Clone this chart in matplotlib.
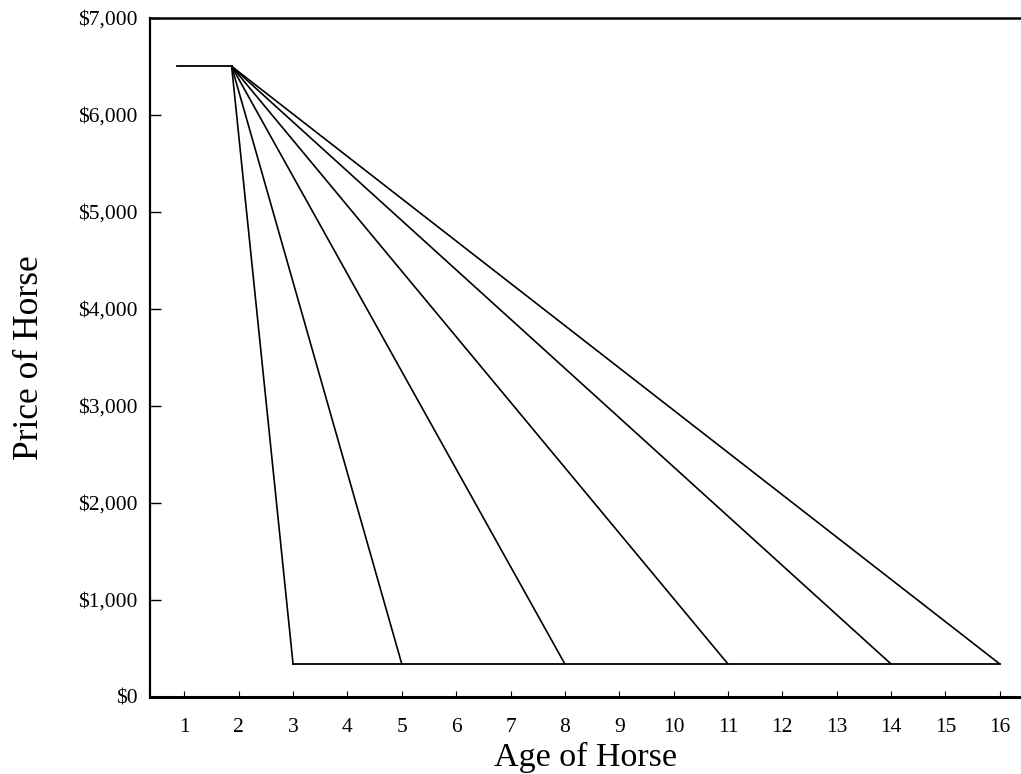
"""Prezzo del cavallo in funzione dell'eta: ammortamento lineare su diversi orizzonti."""
import matplotlib

matplotlib.use("Agg")
import matplotlib.pyplot as plt
from matplotlib.ticker import FuncFormatter

plt.rcParams["font.family"] = ["Liberation Serif", "DejaVu Serif"]

# dati
start_age = [0.87, 1.87]
start_price = [6500, 6500]
end_ages = [3, 5, 8, 11, 14, 16]
salvage_price = 340
x_ticks = list(range(1, 17))
y_ticks = [0, 1000, 2000, 3000, 4000, 5000, 6000, 7000]

fig = plt.figure(figsize=(10.21, 7.74), dpi=100)
ax = fig.add_axes([0.147, 0.0995, 0.853, 0.8775])

ax.plot(start_age, start_price, color="black", lw=1.3)
for age in end_ages:
    ax.plot([start_age[-1], age], [start_price[-1], salvage_price], color="black", lw=1.2)
ax.plot([end_ages[0], end_ages[-1]], [salvage_price, salvage_price], color="black", lw=1.3)

ax.set_xlim(0.37, 16.39)
ax.set_ylim(0, 7000)
ax.set_xticks(x_ticks)
ax.set_yticks(y_ticks)
ax.yaxis.set_major_formatter(FuncFormatter(lambda v, _: f"${v:,.0f}"))
ax.tick_params(axis="x", direction="in", length=4, width=0.8, labelsize=15.5, pad=15)
ax.tick_params(axis="y", direction="in", length=8, width=1.0, labelsize=15.5, pad=9)

ax.spines["right"].set_visible(False)
ax.spines["left"].set_linewidth(1.6)
ax.spines["top"].set_linewidth(1.8)
ax.spines["bottom"].set_linewidth(2.2)

ax.set_xlabel("Age of Horse", fontsize=24.5, labelpad=4)
ax.set_ylabel("Price of Horse", fontsize=25.5, labelpad=23)

fig.savefig("out.png", dpi=100)
plt.close(fig)
